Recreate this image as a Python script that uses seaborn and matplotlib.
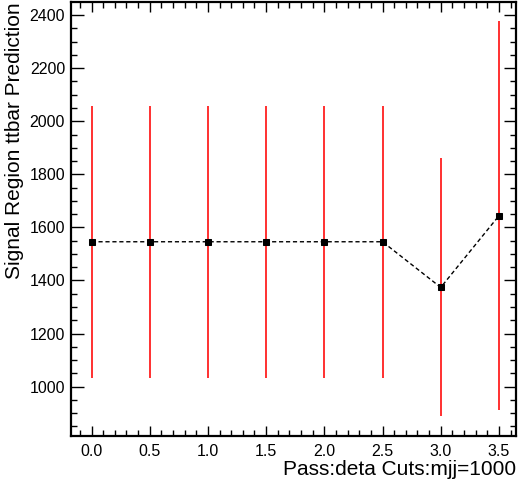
import matplotlib
matplotlib.use("Agg")
import matplotlib.pyplot as plt
from matplotlib.ticker import MultipleLocator, FormatStrFormatter
import pandas as pd
import seaborn as sns

# deta cut values and the ttbar prediction in the signal region
deta_cuts = [0.0, 0.5, 1.0, 1.5, 2.0, 2.5, 3.0, 3.5]
prediction = [1546, 1546, 1546, 1546, 1546, 1546, 1374, 1644]
uncertainty = [513, 513, 513, 513, 513, 513, 486, 733]

df = pd.DataFrame({"cut": deta_cuts, "pred": prediction, "err": uncertainty})

sns.set_style("ticks")
plt.rcParams["font.family"] = ["Liberation Sans", "DejaVu Sans"]
plt.rcParams["text.color"] = "black"
plt.rcParams["axes.labelcolor"] = "black"
plt.rcParams["xtick.color"] = "black"
plt.rcParams["ytick.color"] = "black"

fig = plt.figure(figsize=(5.19, 4.82), dpi=100)
ax = fig.add_axes([0.136, 0.096, 0.859, 0.899])

ax.errorbar(df["cut"], df["pred"], yerr=df["err"], fmt="none",
            ecolor="#ff2020", elinewidth=1.3, capsize=0, zorder=2)
sns.lineplot(data=df, x="cut", y="pred", ax=ax, color="black",
             linestyle=(0, (3, 2)), linewidth=1.0, marker="s",
             markersize=4.5, markeredgecolor="black", zorder=3)

ax.set_xlim(-0.18, 3.65)
ax.set_ylim(815, 2448)

ax.xaxis.set_major_locator(MultipleLocator(0.5))
ax.xaxis.set_minor_locator(MultipleLocator(0.1))
ax.yaxis.set_major_locator(MultipleLocator(200))
ax.yaxis.set_minor_locator(MultipleLocator(50))
ax.xaxis.set_major_formatter(FormatStrFormatter("%.1f"))

ax.tick_params(which="both", direction="in", top=True, right=True,
               labelsize=11.5, color="black", width=1.0)
ax.tick_params(which="major", length=9, pad=4)
ax.tick_params(which="minor", length=4.5)
ax.tick_params(axis="x", which="major", length=7, pad=6)
ax.tick_params(axis="x", which="minor", length=4)

for s in ax.spines.values():
    s.set_linewidth(1.6)
    s.set_color("black")

ax.set_xlabel("Pass:deta Cuts:mjj=1000", fontsize=15, loc="right", labelpad=1)
ax.set_ylabel("Signal Region ttbar Prediction", fontsize=15, loc="top", labelpad=4)

fig.savefig("out.png", dpi=100)
